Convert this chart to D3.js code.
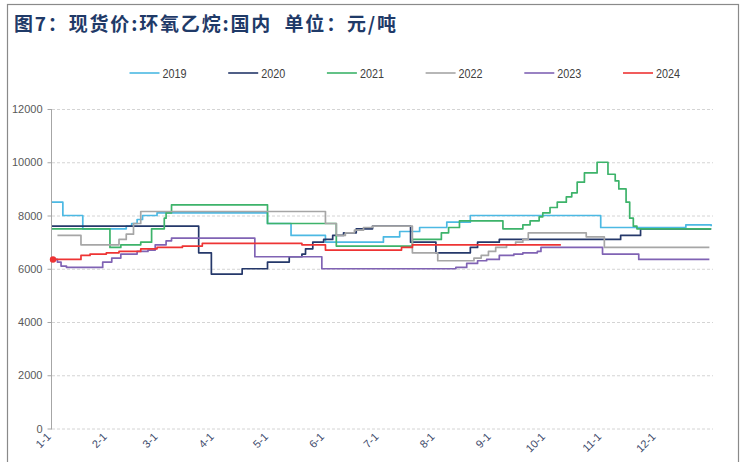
<!DOCTYPE html>
<html><head><meta charset="utf-8">
<script src="https://cdn.jsdelivr.net/npm/d3@7"></script>
<style>
html,body{margin:0;padding:0;background:#fff;}
svg{display:block;}
</style></head>
<body>
<svg id="chart" width="745" height="462"></svg>
<script>
// ---------- data ----------
const titleText = "图7：现货价:环氧乙烷:国内  单位：元/吨";
const monthTicks = ["1-1","2-1","3-1","4-1","5-1","6-1","7-1","8-1","9-1","10-1","11-1","12-1"];
const yTicks = [0,2000,4000,6000,8000,10000,12000];
const seriesNames = ["2019","2020","2021","2022","2023","2024"];
const seriesColors = ["#4CB9E3","#25386A","#3DB36A","#A6A6A6","#8063B4","#EE3434"];

// change points: [date (M-D), price]
const s2019 = [["1-1",8500],["1-7",8000],["1-18",7500],["2-11",7600],["2-14",7700],["2-17",7850],["2-20",8000],["2-28",8100],
  ["4-30",7700],["5-13",7250],["6-1",7000],["7-3",7200],["7-12",7400],["7-23",7550],["8-7",7750],["8-20",8000],
  ["10-31",7550],["12-17",7650],["12-31",7600]];
const s2020 = [["1-1",7600],["3-23",6600],["3-30",5800],["4-16",6000],["4-30",6250],["5-12",6450],["5-19",6550],["5-21",6750],
  ["5-25",7000],["5-31",7100],["6-5",7250],["6-11",7350],["6-18",7500],["6-27",7600],["7-18",7000],["8-1",6600],
  ["8-20",6800],["8-24",7000],["9-5",7100],["11-11",7250],["11-22",7500],["12-31",7500]];
const s2021 = [["1-1",7500],["2-2",6800],["2-8",6900],["2-19",7000],["2-25",7500],["3-4",7900],["3-5",8100],["3-8",8400],
  ["4-30",7700],["6-7",6850],["7-19",7100],["8-4",7350],["8-8",7550],["8-14",7800],["9-7",7500],["9-18",7650],
  ["9-22",7800],["9-27",7950],["9-29",8100],["10-3",8300],["10-7",8500],["10-12",8700],["10-15",8850],["10-18",9250],
  ["10-22",9600],["10-29",10000],["11-4",9550],["11-8",9300],["11-10",9000],["11-14",8500],["11-16",7900],
  ["11-18",7600],["11-20",7500],["12-31",7500]];
const s2022 = [["1-4",7250],["1-17",6900],["2-7",7100],["2-11",7300],["2-15",7700],["2-19",8150],["6-1",7700],["6-7",7250],
  ["6-12",7350],["6-17",7450],["6-22",7550],["6-27",7600],["7-19",6600],["8-2",6300],["8-22",6400],["8-26",6500],
  ["8-30",6650],["9-3",6800],["9-9",6900],["9-14",7000],["9-18",7100],["9-21",7350],["10-23",7200],["11-2",6800],["12-30",6800]];
const s2023 = [["1-1",6350],["1-4",6250],["1-6",6100],["1-9",6050],["1-29",6250],["2-3",6400],["2-8",6550],["2-17",6650],
  ["2-23",6700],["2-27",6900],["3-5",7050],["3-8",7150],["4-23",6450],["5-30",6000],["8-12",6050],["8-18",6200],
  ["8-24",6300],["8-29",6350],["9-5",6500],["9-13",6550],["9-18",6600],["9-26",6650],["9-28",6800],["11-1",6550],
  ["11-21",6350],["12-30",6350]];
const s2024 = [["1-1",6350],["1-17",6500],["1-22",6550],["1-31",6600],["2-7",6650],["2-19",6750],["2-28",6800],["3-14",6850],
  ["3-25",6950],["5-19",6900],["6-1",6700],["7-13",6800],["7-19",6900],["10-9",6900]];
const allSeries = [s2019,s2020,s2021,s2022,s2023,s2024];

// ---------- chart ----------
const svg = d3.select("#chart");
const parse = s => { const [m,d] = s.split("-").map(Number); return new Date(2019, m-1, d); };

const x = d3.scaleTime().domain([new Date(2019,0,1), new Date(2020,0,1)]).range([52, 713]);
const y = d3.scaleLinear().domain([0,12000]).range([428.5,109]);

// frame
svg.append("rect").attr("x",7.5).attr("y",4.5).attr("width",731).attr("height",480)
  .attr("fill","none").attr("stroke","#8a8a8a").attr("stroke-width",1.2);

// title
const title = svg.append("text").attr("x",14).attr("y",31)
  .attr("font-family","'Noto Sans CJK SC', sans-serif").attr("font-weight","bold")
  .attr("font-size",19).attr("fill","#1F3A68").attr("xml:space","preserve")
  .style("white-space","pre").text(titleText);
title.attr("textLength",382).attr("lengthAdjust","spacing");

// gridlines
svg.append("g").selectAll("line").data(yTicks).join("line")
  .attr("x1",52).attr("x2",713).attr("y1",d=>y(d)+0.5).attr("y2",d=>y(d)+0.5)
  .attr("stroke","#d4d4d4").attr("stroke-width",1).attr("stroke-dasharray","3,2");

// y axis
const yAxis = svg.append("g").attr("transform","translate(51.5,0)")
  .call(d3.axisLeft(y).tickValues(yTicks).tickSize(4).tickPadding(5).tickFormat(d3.format("d")));
yAxis.select(".domain").attr("stroke","#a6a6a6").attr("d","M0,"+(y(12000))+"V"+(y(0)+1));
yAxis.selectAll(".tick line").attr("stroke","#a6a6a6");
yAxis.selectAll("text").attr("font-family","'Liberation Sans', Arial, sans-serif").attr("font-size",11).attr("fill","#595959");

// x axis labels
const xAxis = svg.append("g").attr("transform","translate(0,"+y(0)+")")
  .call(d3.axisBottom(x).tickValues(monthTicks.map(parse)).tickSize(0).tickFormat((d,i)=>monthTicks[i]));
xAxis.select(".domain").remove();
xAxis.selectAll("text")
  .attr("font-family","'Liberation Sans', Arial, sans-serif").attr("font-size",11).attr("fill","#3d4a6b")
  .attr("text-anchor","end").attr("dy",0).attr("y",0)
  .attr("transform","translate(-1,9) rotate(-45)");

// lines
const line = d3.line().x(d=>x(parse(d[0]))).y(d=>y(d[1])).curve(d3.curveStepAfter);
svg.append("g").selectAll("path").data(allSeries).join("path")
  .attr("d",line).attr("fill","none")
  .attr("stroke",(d,i)=>seriesColors[i]).attr("stroke-width",1.7).attr("stroke-linejoin","round");

// start marker of 2024
svg.append("circle").attr("cx",x(parse(s2024[0][0]))+1).attr("cy",y(s2024[0][1])).attr("r",3.2).attr("fill",seriesColors[5]);

// legend
const leg = svg.append("g").selectAll("g").data(seriesNames).join("g")
  .attr("transform",(d,i)=>"translate("+(129.5+i*98.7)+",73)");
leg.append("line").attr("x1",0).attr("x2",30).attr("y1",0).attr("y2",0)
  .attr("stroke",(d,i)=>seriesColors[i]).attr("stroke-width",1.6);
leg.append("text").attr("x",33).attr("y",4.5).text(d=>d)
  .attr("font-family","'Liberation Sans', Arial, sans-serif").attr("font-size",12.5).attr("fill","#404040")
  .attr("textLength",24).attr("lengthAdjust","spacingAndGlyphs");
</script>
</body></html>
